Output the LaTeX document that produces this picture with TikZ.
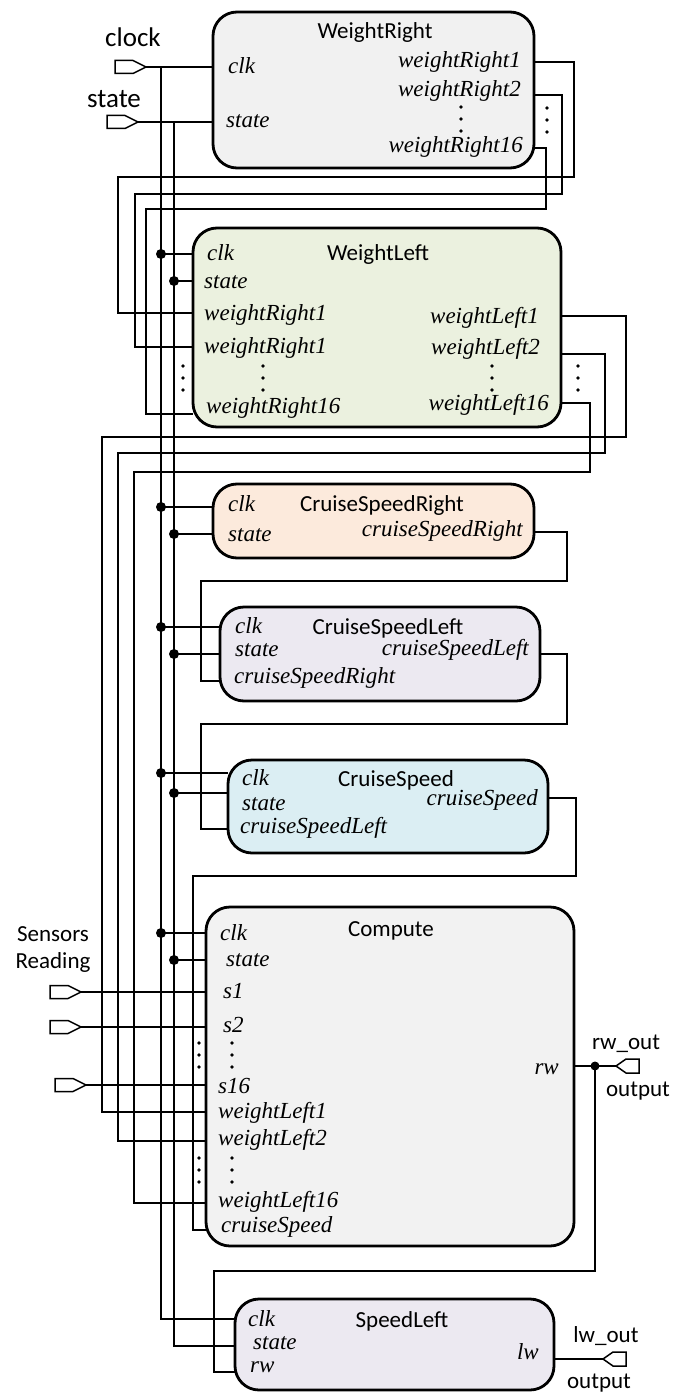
\documentclass[tikz,border=0pt]{standalone}
\usepackage{fontspec}
\setmainfont{Liberation Serif}
\newfontfamily\sansf{Carlito}
\definecolor{cwr}{HTML}{F1F1F1}
\definecolor{cwl}{HTML}{EBF1DF}
\definecolor{ccsr}{HTML}{FCEADC}
\definecolor{ccsl}{HTML}{ECE9F1}
\definecolor{ccs}{HTML}{DBEEF3}
\definecolor{ccmp}{HTML}{F2F2F2}
\newcommand\inport[1]{\draw[prt] (#1) -- ++(-13,-6.5) -- ++(-18,0) -- ++(0,13) -- ++(18,0) -- cycle;}
\newcommand\outport[1]{\draw[prt] (#1) -- ++(10,-7) -- ++(13,0) -- ++(0,14) -- ++(-13,0) -- cycle;}
\newcommand\vdotsat[2]{\fill (#1,#2) circle (1.9) (#1,#2+12) circle (1.9) (#1,#2+24) circle (1.9);}
\begin{document}
\begin{tikzpicture}[x=1pt,y=-1pt,
  blk/.style={draw,line width=2.8pt,rounded corners=24pt,inner sep=0pt},
  wire/.style={line width=1.5pt},
  prt/.style={line width=1.5pt,fill=white,line join=miter},
  lab/.style={font=\fontsize{23}{26}\selectfont\itshape,inner sep=0pt,text height=16pt,text depth=4.6pt},
  ttl/.style={font=\sansf\fontsize{23}{26}\selectfont,inner sep=0pt},
  big/.style={font=\sansf\fontsize{27}{30}\selectfont,inner sep=0pt}]
\useasboundingbox (0,0) rectangle (672,1394);

% ---------- boxes ----------
\node[blk,fill=cwr,minimum width=321pt,minimum height=156pt] (wr) at (373.5,90) {};
\node[blk,fill=cwl,minimum width=368pt,minimum height=199pt] (wl) at (377,327.5) {};
\node[blk,fill=ccsr,minimum width=321pt,minimum height=74pt] (csr) at (373.5,521) {};
\node[blk,fill=ccsl,minimum width=320pt,minimum height=94pt] (csl) at (380,654) {};
\node[blk,fill=ccs,minimum width=320pt,minimum height=93pt] (cs) at (388,806.5) {};
\node[blk,fill=ccmp,minimum width=368pt,minimum height=339pt] (cmp) at (390,1076.5) {};
\node[blk,fill=ccsl,minimum width=319pt,minimum height=91pt] (sl) at (394.5,1344.5) {};

% ---------- pin coordinates ----------
\coordinate (clkin) at (146,67);
\coordinate (stin) at (138,122);
\coordinate (s1in) at (81,992);
\coordinate (s2in) at (81,1027);
\coordinate (s16in) at (86,1085);
\coordinate (rwout) at (616,1066);
\coordinate (lwout) at (603,1359);
\coordinate (rwj) at (595,1066);

\coordinate (wr-clk) at (213,67);
\coordinate (wr-st) at (213,122);
\coordinate (wr-o1) at (534,62);
\coordinate (wr-o2) at (534,95);
\coordinate (wr-o16) at (534,148);

\coordinate (wl-i1) at (193,313);
\coordinate (wl-i2) at (193,347);
\coordinate (wl-i16) at (193,414);
\coordinate (wl-o1) at (561,316);
\coordinate (wl-o2) at (561,354);
\coordinate (wl-o16) at (561,403);

\coordinate (csr-o) at (534,532);
\coordinate (csl-i) at (220,681);
\coordinate (csl-o) at (540,654);
\coordinate (cs-i) at (228,829);
\coordinate (cs-o) at (548,798);

\coordinate (cmp-s1) at (206,992);
\coordinate (cmp-s2) at (206,1027);
\coordinate (cmp-s16) at (206,1085);
\coordinate (cmp-w1) at (206,1112);
\coordinate (cmp-w2) at (206,1141);
\coordinate (cmp-w16) at (206,1203);
\coordinate (cmp-cs) at (206,1230);
\coordinate (cmp-rw) at (574,1066);

\coordinate (sl-clk) at (235,1319);
\coordinate (sl-st) at (235,1346);
\coordinate (sl-rw) at (235,1372);
\coordinate (sl-lw) at (554,1359);

% ---------- wires ----------
\draw[wire] (clkin) -- (wr-clk);
\draw[wire] (stin) -- (wr-st);
\draw[wire] (161,67) |- (sl-clk);
\draw[wire] (174,122) |- (sl-st);
\foreach \y/\xe in {254/193, 507/213, 627/220, 773/228, 933/206}
  {\draw[wire] (161,\y) -- (\xe,\y); \fill (161,\y) circle (5);}
\foreach \y/\xe in {281/193, 534/213, 654/220, 793/228, 960/206}
  {\draw[wire] (174,\y) -- (\xe,\y); \fill (174,\y) circle (5);}

\draw[wire] (wr-o1) -| (574,177) -| (118,313) -- (wl-i1);
\draw[wire] (wr-o2) -| (562,194) -| (135,347) -- (wl-i2);
\draw[wire] (wr-o16) -| (546,209) -| (146,414) -- (wl-i16);

\draw[wire] (wl-o1) -| (626,437) -| (102,1112) -- (cmp-w1);
\draw[wire] (wl-o2) -| (605,453) -| (118,1141) -- (cmp-w2);
\draw[wire] (wl-o16) -| (590,472) -| (134,1203) -- (cmp-w16);

\draw[wire] (csr-o) -| (567,581) -| (201,681) -- (csl-i);
\draw[wire] (csl-o) -| (567,724) -| (201,829) -- (cs-i);
\draw[wire] (cs-o) -| (576,876) -| (193,1230) -- (cmp-cs);

\draw[wire] (s1in) -- (cmp-s1);
\draw[wire] (s2in) -- (cmp-s2);
\draw[wire] (s16in) -- (cmp-s16);

\draw[wire] (cmp-rw) -- (rwout);
\draw[wire] (rwj) |- (214,1271) |- (sl-rw);
\fill (rwj) circle (4.5);
\draw[wire] (sl-lw) -- (lwout);

% ---------- ports ----------
\inport{clkin}
\inport{stin}
\inport{s1in}
\inport{s2in}
\inport{s16in}
\outport{rwout}
\outport{lwout}

% ---------- ellipsis dots ----------
\vdotsat{461}{107}
\vdotsat{547}{108}
\vdotsat{183}{366}
\vdotsat{263}{366}
\vdotsat{492}{366}
\vdotsat{578}{366}
\vdotsat{232}{1043}
\vdotsat{199}{1043}
\vdotsat{232}{1158}
\vdotsat{199}{1158}

% ---------- outside texts ----------
\node[big] (tclock) at (133,37) {clock};
\node[big] (tstate) at (114,99) {state};
\node[ttl] (tsens) at (53,934) {Sensors};
\node[ttl] (tread) at (53,962) {Reading};
\node[ttl] (trwo) at (626,1044) {rw\_out};
\node[ttl] (trwo2) at (638,1091) {output};
\node[ttl] (tlwo) at (606,1336) {lw\_out};
\node[ttl] (tlwo2) at (599,1383) {output};

% ---------- WeightRight ----------
\node[ttl] (wr-t) at (375,32) {WeightRight};
\node[lab,anchor=west] (wr-a) at (228,68) {clk};
\node[lab,anchor=west] (wr-b) at (226,122) {state};
\node[lab,anchor=east] (wr-c) at (521,62) {weightRight1};
\node[lab,anchor=east] (wr-d) at (521,91) {weightRight2};
\node[lab,anchor=east] (wr-e) at (523,147) {weightRight16};

% ---------- WeightLeft ----------
\node[ttl] (wl-t) at (378,254) {WeightLeft};
\node[lab,anchor=west] (wl-a) at (207,255) {clk};
\node[lab,anchor=west] (wl-b) at (204,283) {state};
\node[lab,anchor=west] (wl-c) at (204,315) {weightRight1};
\node[lab,anchor=west] (wl-d) at (204,348) {weightRight1};
\node[lab,anchor=west] (wl-e) at (206,408) {weightRight16};
\node[lab,anchor=east] (wl-f) at (539,318) {weightLeft1};
\node[lab,anchor=east] (wl-g) at (540,349) {weightLeft2};
\node[lab,anchor=east] (wl-h) at (549,405) {weightLeft16};

% ---------- CruiseSpeedRight ----------
\node[ttl] (csr-t) at (382,505) {CruiseSpeedRight};
\node[lab,anchor=west] (csr-a) at (228,506) {clk};
\node[lab,anchor=west] (csr-b) at (228,536) {state};
\node[lab,anchor=east] (csr-c) at (523,531) {cruiseSpeedRight};

% ---------- CruiseSpeedLeft ----------
\node[ttl] (csl-t) at (388,628) {CruiseSpeedLeft};
\node[lab,anchor=west] (csl-a) at (235,628) {clk};
\node[lab,anchor=west] (csl-b) at (235,651) {state};
\node[lab,anchor=west] (csl-c) at (234,678) {cruiseSpeedRight};
\node[lab,anchor=east] (csl-d) at (529,650) {cruiseSpeedLeft};

% ---------- CruiseSpeed ----------
\node[ttl] (cs-t) at (396,780) {CruiseSpeed};
\node[lab,anchor=west] (cs-a) at (242,780) {clk};
\node[lab,anchor=west] (cs-b) at (242,805) {state};
\node[lab,anchor=west] (cs-c) at (240,828) {cruiseSpeedLeft};
\node[lab,anchor=east] (cs-d) at (538,800) {cruiseSpeed};

% ---------- Compute ----------
\node[ttl] (cmp-t) at (391,931) {Compute};
\node[lab,anchor=west] (cmp-a) at (220,935) {clk};
\node[lab,anchor=west] (cmp-b) at (226,961) {state};
\node[lab,anchor=west] (cmp-c) at (223,993) {s1};
\node[lab,anchor=west] (cmp-d) at (223,1027) {s2};
\node[lab,anchor=west] (cmp-e) at (218,1088) {s16};
\node[lab,anchor=west] (cmp-f) at (218,1113) {weightLeft1};
\node[lab,anchor=west] (cmp-g) at (218,1140) {weightLeft2};
\node[lab,anchor=west] (cmp-h) at (218,1202) {weightLeft16};
\node[lab,anchor=west] (cmp-i) at (221,1227) {cruiseSpeed};
\node[lab,anchor=east] (cmp-j) at (559,1069) {rw};

% ---------- SpeedLeft ----------
\node[ttl] (sl-t) at (402,1321) {SpeedLeft};
\node[lab,anchor=west] (sl-a) at (248,1321) {clk};
\node[lab,anchor=west] (sl-b) at (253,1344) {state};
\node[lab,anchor=west] (sl-c) at (250,1367) {rw};
\node[lab,anchor=east] (sl-d) at (539,1354) {lw};
\end{tikzpicture}
\end{document}
